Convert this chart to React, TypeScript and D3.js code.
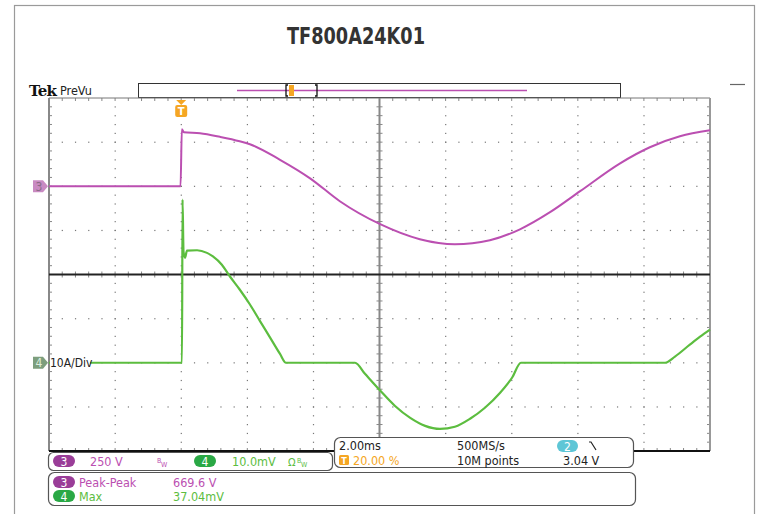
import React from "react";
import * as d3 from "d3";

// ---- data ----
const title = "TF800A24K01";
// channel 3 (voltage), time in ms relative to trigger, volts
const ch3Time = [-4, -0.02, 0.02, 0.08, 0.57, 1.17, 1.77, 2.08, 2.99, 3.9, 4.8, 6.02, 7.22, 8.28, 9.34, 10.25, 11.16, 12.07, 13.28, 14.18, 15.09, 16];
const ch3Volt = [0, 0, 323, 306, 300, 280, 255, 238, 150, 45, -85, -215, -300, -329, -306, -244, -147, -28, 130, 221, 283, 317];
// channel 4 (current), amps
const ch4Time = [-4, 0.024, 0.04, 0.07, 0.115, 0.175, 0.48, 0.78, 0.96, 1.23, 1.47, 1.77, 2.08, 2.38, 2.69, 2.99, 3.17, 5.26, 5.56, 6.02, 6.47, 6.93, 7.38, 7.83, 8.28, 8.74, 9.19, 9.65, 10.01, 10.28, 14.64, 14.94, 15.39, 15.7, 16];
const ch4Amp = [0, 0, 37, 25.2, 23.8, 25.4, 25.5, 24.9, 24.1, 22.2, 19.6, 16.6, 13.2, 9.5, 5.7, 2.0, 0, 0, -2.5, -6.3, -9.8, -12.5, -14.3, -15.0, -14.5, -12.7, -10.2, -6.8, -3.4, 0, 0, 1.4, 4.1, 5.9, 7.5];

const timeDomain = [-4, 16]; // ms, 2 ms/div
const ch3VoltsPerDiv = 250;
const ch4AmpsPerDiv = 10;
const ch3Position = 2;
const ch4Position = -2;

const readoutCh3 = ["3", "250 V"];
const readoutCh4 = ["4", "10.0mV"];
const timebase = ["2.00ms", "500MS/s", "20.00 %", "10M points", "2", "3.04 V"];
const measures = [
  { ch: "3", name: "Peak-Peak", value: "669.6 V" },
  { ch: "4", name: "Max", value: "37.04mV" },
];

const FONT = "'Liberation Sans Narrow', 'DejaVu Sans Condensed', 'Roboto', sans-serif";
const C3 = "#bb4fb1";
const C4 = "#5cbd3f";
const P3 = "#9a3d98";
const P4 = "#2aa845";
const ORANGE = "#f5a623";

export default function App() {
  const L = 49, R = 710, T = 98, B = 451;
  const x = d3.scaleLinear().domain(timeDomain).range([L, R]);
  const yDiv = d3.scaleLinear().domain([-4, 4]).range([B, T]);
  const y3 = (v: number) => yDiv(v / ch3VoltsPerDiv + ch3Position);
  const y4 = (a: number) => yDiv(a / ch4AmpsPerDiv + ch4Position);
  const line3 = d3.line<number>().x((_, i) => x(ch3Time[i])).y((v) => y3(v)).curve(d3.curveMonotoneX);
  const line4 = d3.line<number>().x((_, i) => x(ch4Time[i])).y((v) => y4(v)).curve(d3.curveMonotoneX);

  const dx = (R - L) / 10;
  const dy = (B - T) / 8;
  const dots: JSX.Element[] = [];
  for (let i = 1; i < 10; i++) {
    if (i === 5) continue;
    const gx = L + i * dx;
    for (let j = 1; j < 40; j++) {
      const gy = T + (j * dy) / 5;
      dots.push(<rect key={`v${i}-${j}`} x={gx - 0.5} y={gy - 0.5} width={1.2} height={1.2} fill="#777" />);
    }
  }
  for (let j = 1; j < 8; j++) {
    if (j === 4) continue;
    const gy = T + j * dy;
    for (let i = 1; i < 50; i++) {
      const gx = L + (i * dx) / 5;
      dots.push(<rect key={`h${j}-${i}`} x={gx - 0.5} y={gy - 0.5} width={1.2} height={1.2} fill="#777" />);
    }
  }
  const ticks: JSX.Element[] = [];
  const cx = L + 5 * dx, cy = T + 4 * dy;
  for (let i = 1; i < 50; i++) {
    const gx = L + (i * dx) / 5;
    ticks.push(<line key={`ct${i}`} x1={gx} x2={gx} y1={cy - 3} y2={cy + 3} stroke="#888" strokeWidth={1} />);
    ticks.push(<line key={`tt${i}`} x1={gx} x2={gx} y1={T} y2={T + 3} stroke="#888" strokeWidth={1} />);
    ticks.push(<line key={`bt${i}`} x1={gx} x2={gx} y1={B - 3} y2={B} stroke="#888" strokeWidth={1} />);
  }
  for (let j = 1; j < 40; j++) {
    const gy = T + (j * dy) / 5;
    ticks.push(<line key={`cv${j}`} x1={cx - 3} x2={cx + 3} y1={gy} y2={gy} stroke="#888" strokeWidth={1} />);
    ticks.push(<line key={`lv${j}`} x1={L} x2={L + 3} y1={gy} y2={gy} stroke="#888" strokeWidth={1} />);
    ticks.push(<line key={`rv${j}`} x1={R - 3} x2={R} y1={gy} y2={gy} stroke="#888" strokeWidth={1} />);
  }

  const pill = (px: number, py: number, label: string, fill: string, w = 22) => (
    <g>
      <rect x={px} y={py} width={w} height={12} rx={6} fill={fill} />
      <text x={px + w / 2} y={py + 10.5} textAnchor="middle" fill="#fff" fontSize={12}>{label}</text>
    </g>
  );

  const trigX = x(0);

  return (
    <svg width={760} height={514} style={{ position: "absolute", left: 0, top: 0, background: "#fff" }} fontFamily={FONT}>
      <rect x={0} y={0} width={760} height={514} fill="#fff" />
      <rect x={14.5} y={5.5} width={740} height={520} fill="none" stroke="#9a9a9a" strokeWidth={1.2} />
      <text x={287} y={44} fontSize={23} fontWeight="bold" fill="#333" textLength={138} lengthAdjust="spacingAndGlyphs">{title}</text>

      {/* header */}
      <text x={29} y={96} fontFamily="'DejaVu Serif', 'Liberation Serif', serif" fontWeight="bold" fontSize={15} fill="#111" letterSpacing={-0.8}>Tek</text>
      <text x={60} y={95} fontSize={12.5} fill="#222">PreVu</text>
      <rect x={138.5} y={83.5} width={482} height={14} fill="#fff" stroke="#333" strokeWidth={1} />
      <line x1={237} x2={527} y1={90.5} y2={90.5} stroke={C3} strokeWidth={1.3} />
      <path d="M288,85 h-2 v11 h2 M315,85 h2 v11 h-2" fill="none" stroke="#111" strokeWidth={1.3} />
      <rect x={289} y={85} width={5} height={11} fill={ORANGE} />
      <line x1={730} x2={745} y1={84.5} y2={84.5} stroke="#666" strokeWidth={1.2} />

      {/* graticule */}
      <g>{dots}</g>
      <g>{ticks}</g>
      <line x1={L} x2={R} y1={T} y2={T} stroke="#777" strokeWidth={1} />
      <line x1={L} x2={L} y1={T} y2={B} stroke="#888" strokeWidth={2} />
      <line x1={R} x2={R} y1={T} y2={B} stroke="#999" strokeWidth={2} />
      <line x1={L} x2={R} y1={B} y2={B} stroke="#111" strokeWidth={2} />
      <line x1={cx} x2={cx} y1={T} y2={B} stroke="#888" strokeWidth={2} />
      <line x1={L} x2={R} y1={cy} y2={cy} stroke="#222" strokeWidth={2} />

      {/* traces */}
      <path d={line3(ch3Volt) || ""} fill="none" stroke={C3} strokeWidth={2} strokeLinejoin="round" />
      <path d={line4(ch4Amp) || ""} fill="none" stroke={C4} strokeWidth={2.2} strokeLinejoin="round" />

      {/* trigger marker */}
      <path d={`M${trigX - 5},${T + 2} h10 l-5,5 z`} fill={ORANGE} />
      <rect x={trigX - 6} y={T + 7} width={12} height={12} rx={2} fill={ORANGE} />
      <text x={trigX} y={T + 17} textAnchor="middle" fontSize={11} fill="#fff" fontWeight="bold">T</text>

      {/* channel markers */}
      <path d={`M33,${y3(0) - 6} h10 l5,6 l-5,6 h-10 z`} fill="#c98ac2" />
      <text x={39} y={y3(0) + 4.5} textAnchor="middle" fontSize={12} fill="#8a6a88">3</text>
      <path d={`M33,${y4(0) - 6} h10 l5,6 l-5,6 h-10 z`} fill="#7d9e7d" />
      <text x={39} y={y4(0) + 4.5} textAnchor="middle" fontSize={12} fill="#dfeedd">4</text>
      <rect x={50} y={y4(0) - 7} width={40} height={13} fill="#fff" />
      <text x={50} y={y4(0) + 4} fontSize={12} fill="#222">10A/Div</text>

      {/* vertical readout */}
      <rect x={48.5} y={452.5} width={284} height={18} rx={5} fill="#fff" stroke="#555" strokeWidth={1.2} />
      {pill(53, 455, readoutCh3[0], P3)}
      <text x={90} y={466} fontSize={12.5} fill={C3}>{readoutCh3[1]}</text>
      <text x={157} y={463} fontSize={7} fill={C3}>B</text>
      <text x={161} y={467} fontSize={7} fill={C3}>W</text>
      {pill(194, 455, readoutCh4[0], P4)}
      <text x={232} y={466} fontSize={12.5} fill={C4}>{readoutCh4[1]}</text>
      <text x={288} y={466} fontSize={11} fill={C4}>Ω</text>
      <text x={297} y={463} fontSize={7} fill={C4}>B</text>
      <text x={301} y={467} fontSize={7} fill={C4}>W</text>

      {/* timebase readout */}
      <rect x={334.5} y={437.5} width={299} height={30} rx={6} fill="#fff" stroke="#555" strokeWidth={1.2} />
      <text x={339} y={450} fontSize={12.5} fill="#222">{timebase[0]}</text>
      <text x={457} y={450} fontSize={12.5} fill="#222">{timebase[1]}</text>
      <rect x={339} y={455} width={10} height={10} rx={1.5} fill={ORANGE} />
      <text x={344} y={464} textAnchor="middle" fontSize={9} fill="#fff" fontWeight="bold">T</text>
      <text x={353} y={465} fontSize={12.5} fill={ORANGE}>{timebase[2]}</text>
      <text x={457} y={465} fontSize={12.5} fill="#222">{timebase[3]}</text>
      <rect x={557} y={440} width={21} height={12} rx={6} fill="#5ec6d6" />
      <text x={567.5} y={450.5} textAnchor="middle" fontSize={12} fill="#fff">{timebase[4]}</text>
      <path d="M589,442 h2 l5,8" fill="none" stroke="#222" strokeWidth={1.2} />
      <text x={563} y={465} fontSize={12.5} fill="#222">{timebase[5]}</text>

      {/* measurements */}
      <rect x={48.5} y={472.5} width={587} height={33} rx={6} fill="#fff" stroke="#555" strokeWidth={1.2} />
      {measures.map((m, i) => (
        <g key={m.ch}>
          {pill(53, 476 + i * 14, m.ch, i === 0 ? P3 : P4)}
          <text x={79} y={487 + i * 14} fontSize={12.5} fill={i === 0 ? C3 : C4}>{m.name}</text>
          <text x={173} y={487 + i * 14} fontSize={12.5} fill={i === 0 ? C3 : C4}>{m.value}</text>
        </g>
      ))}
    </svg>
  );
}
